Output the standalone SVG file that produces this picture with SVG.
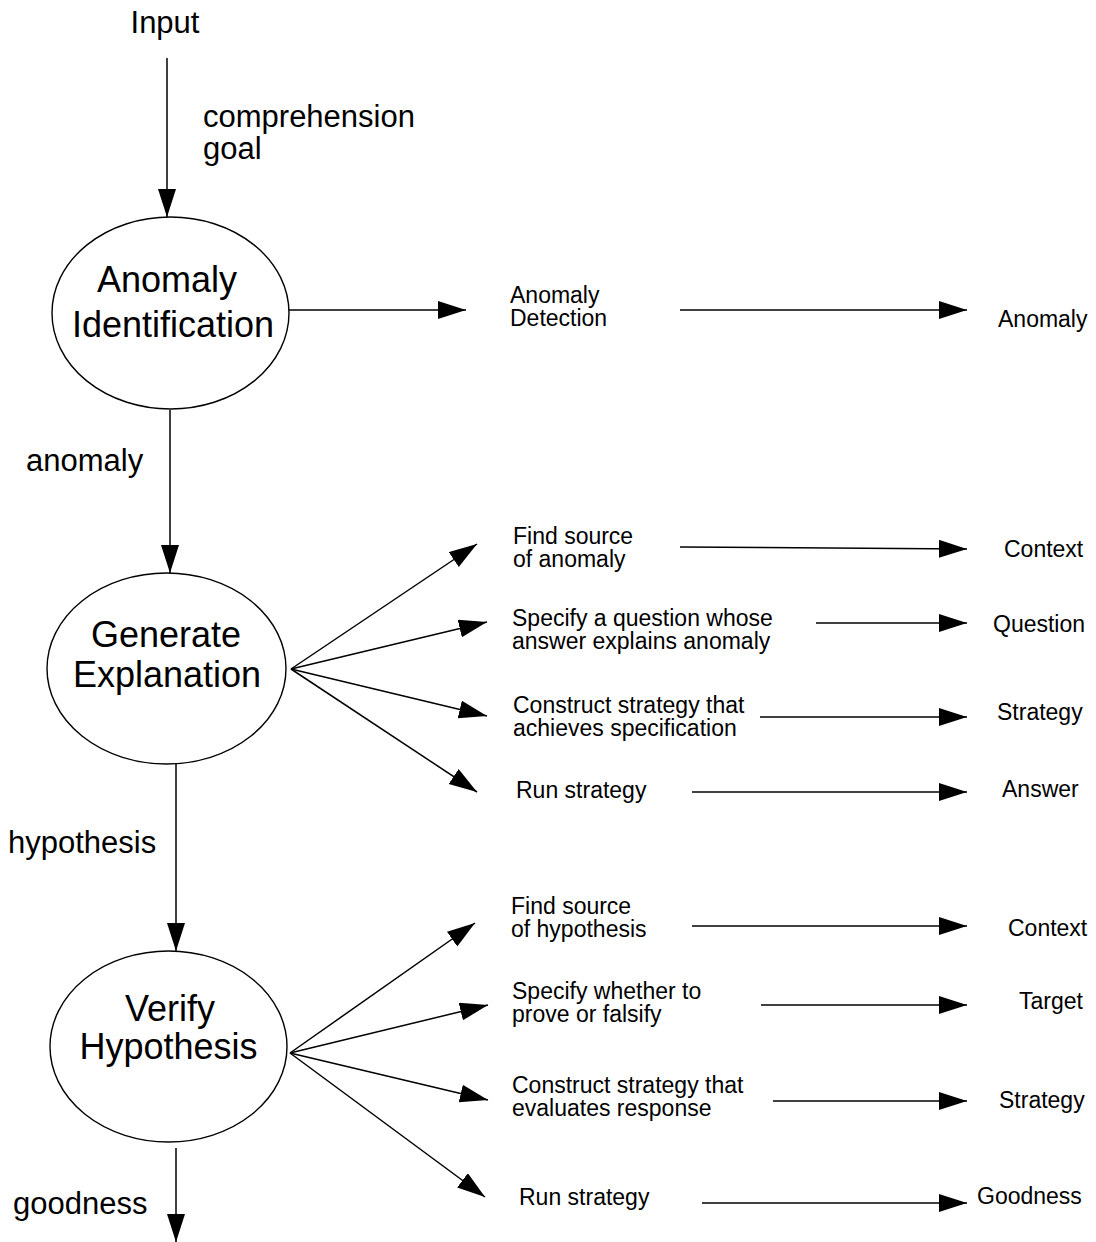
<svg xmlns="http://www.w3.org/2000/svg" width="1096" height="1242" viewBox="0 0 1096 1242">
  <style>
    text { font-family: "Liberation Sans", Arial, Helvetica, sans-serif; fill: #000; }
    .big { font-size: 36px; text-anchor: middle; }
    .side { font-size: 31px; }
    .small { font-size: 23px; }
    .node ellipse { fill: #fff; stroke: #000; stroke-width: 1.4; }
    .edge { stroke: #000; stroke-width: 1.5; fill: none; marker-end: url(#head); }
  </style>
  <defs>
    <marker id="head" markerUnits="userSpaceOnUse" markerWidth="30" markerHeight="20" refX="28" refY="9" orient="auto">
      <path d="M0,0 L28,9 L0,18 Z" fill="#000"/>
    </marker>
  </defs>
  <rect width="1096" height="1242" fill="#fff"/>

  <!-- connectors -->
  <g id="connectors">
    <line class="edge" x1="167" y1="58" x2="167" y2="217"/>
    <line class="edge" x1="170" y1="410" x2="170" y2="573"/>
    <line class="edge" x1="176" y1="762" x2="176" y2="951"/>
    <line class="edge" x1="176" y1="1148" x2="176" y2="1242"/>

    <line class="edge" x1="289" y1="310" x2="466" y2="310"/>
    <line class="edge" x1="680" y1="310" x2="967" y2="310"/>

    <line class="edge" x1="291" y1="669" x2="477" y2="544"/>
    <line class="edge" x1="291" y1="669" x2="487" y2="622"/>
    <line class="edge" x1="291" y1="669" x2="487" y2="716"/>
    <line class="edge" x1="291" y1="669" x2="477" y2="792"/>

    <line class="edge" x1="680" y1="547" x2="967" y2="549"/>
    <line class="edge" x1="816" y1="623" x2="967" y2="623"/>
    <line class="edge" x1="760" y1="717" x2="967" y2="717"/>
    <line class="edge" x1="692" y1="792" x2="967" y2="792"/>

    <line class="edge" x1="290" y1="1053" x2="475" y2="923"/>
    <line class="edge" x1="290" y1="1053" x2="488" y2="1005"/>
    <line class="edge" x1="290" y1="1053" x2="488" y2="1100"/>
    <line class="edge" x1="290" y1="1053" x2="485" y2="1197"/>

    <line class="edge" x1="692" y1="926" x2="967" y2="926"/>
    <line class="edge" x1="761" y1="1005" x2="967" y2="1005"/>
    <line class="edge" x1="773" y1="1101" x2="967" y2="1101"/>
    <line class="edge" x1="702" y1="1203" x2="967" y2="1203"/>
  </g>

  <!-- edge labels on the main flow -->
  <g id="flow-labels">
    <text class="side" x="165" y="33" text-anchor="middle">Input</text>
    <text class="side" x="203" y="127">comprehension</text>
    <text class="side" x="203" y="159">goal</text>
    <text class="side" x="26" y="471">anomaly</text>
    <text class="side" x="8" y="853">hypothesis</text>
    <text class="side" x="13" y="1214">goodness</text>
  </g>

  <!-- process nodes -->
  <g id="anomaly-identification" class="node">
    <ellipse cx="170.5" cy="313" rx="118.5" ry="96"/>
    <text class="big" x="167" y="292">Anomaly</text>
    <text class="big" x="173" y="337">Identification</text>
  </g>
  <g id="generate-explanation" class="node">
    <ellipse cx="166.5" cy="668.5" rx="119.5" ry="95.5"/>
    <text class="big" x="166" y="647">Generate</text>
    <text class="big" x="167" y="687">Explanation</text>
  </g>
  <g id="verify-hypothesis" class="node">
    <ellipse cx="168.5" cy="1046.5" rx="118.5" ry="95.5"/>
    <text class="big" x="170" y="1021">Verify</text>
    <text class="big" x="168.5" y="1059">Hypothesis</text>
  </g>

  <!-- sub-steps -->
  <g id="anomaly-detection">
    <text class="small" x="510" y="303">Anomaly</text>
    <text class="small" x="510" y="326">Detection</text>
  </g>
  <g id="find-source-anomaly">
    <text class="small" x="513" y="544">Find source</text>
    <text class="small" x="513" y="567">of anomaly</text>
  </g>
  <g id="specify-question">
    <text class="small" x="512" y="626">Specify a question whose</text>
    <text class="small" x="512" y="649">answer explains anomaly</text>
  </g>
  <g id="construct-strategy-1">
    <text class="small" x="513" y="713">Construct strategy that</text>
    <text class="small" x="513" y="736">achieves specification</text>
  </g>
  <g id="run-strategy-1">
    <text class="small" x="516" y="798">Run strategy</text>
  </g>
  <g id="find-source-hypothesis">
    <text class="small" x="511" y="914">Find source</text>
    <text class="small" x="511" y="937">of hypothesis</text>
  </g>
  <g id="specify-whether">
    <text class="small" x="512" y="999">Specify whether to</text>
    <text class="small" x="512" y="1022">prove or falsify</text>
  </g>
  <g id="construct-strategy-2">
    <text class="small" x="512" y="1093">Construct strategy that</text>
    <text class="small" x="512" y="1116">evaluates response</text>
  </g>
  <g id="run-strategy-2">
    <text class="small" x="519" y="1205">Run strategy</text>
  </g>

  <!-- results -->
  <g id="result-anomaly"><text class="small" x="998" y="327">Anomaly</text></g>
  <g id="result-context-1"><text class="small" x="1004" y="557">Context</text></g>
  <g id="result-question"><text class="small" x="993" y="632">Question</text></g>
  <g id="result-strategy-1"><text class="small" x="997" y="720">Strategy</text></g>
  <g id="result-answer"><text class="small" x="1002" y="797">Answer</text></g>
  <g id="result-context-2"><text class="small" x="1008" y="936">Context</text></g>
  <g id="result-target"><text class="small" x="1019" y="1009">Target</text></g>
  <g id="result-strategy-2"><text class="small" x="999" y="1108">Strategy</text></g>
  <g id="result-goodness"><text class="small" x="977" y="1204">Goodness</text></g>
</svg>
